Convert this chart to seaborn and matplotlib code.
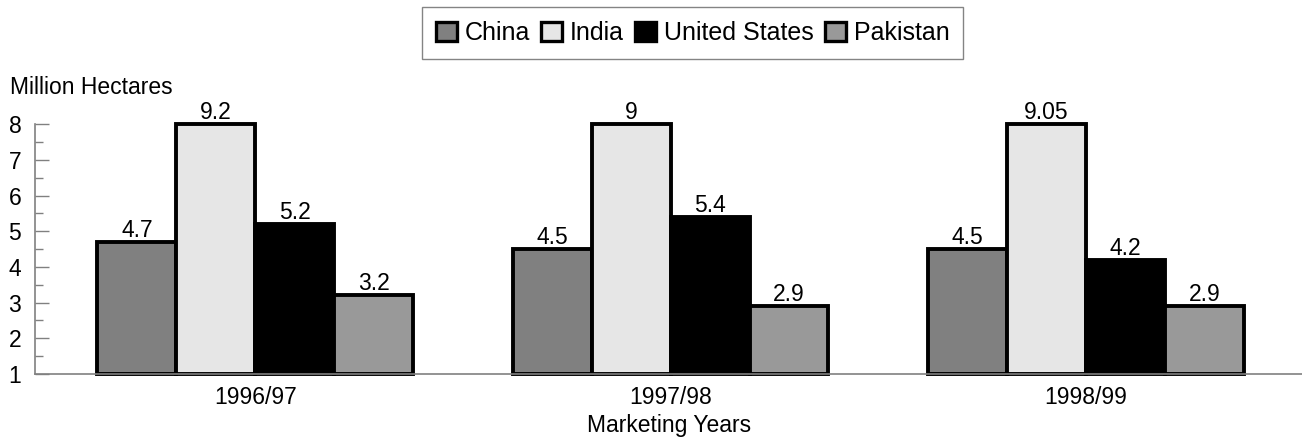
import numpy as np
import pandas as pd
import matplotlib
matplotlib.use("Agg")
import matplotlib.pyplot as plt
from matplotlib.ticker import MultipleLocator
import seaborn as sns

# ===================== DATA =====================
years = ["1996/97", "1997/98", "1998/99"]
countries = ["China", "India", "United States", "Pakistan"]
china = [4.7, 4.5, 4.5]
india = [9.2, 9.0, 9.05]
united_states = [5.2, 5.4, 4.2]
pakistan = [3.2, 2.9, 2.9]

colors = ["#808080", "#e6e6e6", "#000000", "#999999"]

df = pd.DataFrame({
    "Year": years * 4,
    "Country": np.repeat(countries, len(years)),
    "Area": china + india + united_states + pakistan,
})

# ===================== PLOT =====================
sns.set_style("white")
plt.rcParams["font.family"] = ["Liberation Sans", "DejaVu Sans"]
plt.rcParams["text.color"] = "black"
plt.rcParams["xtick.labelcolor"] = "black"
plt.rcParams["ytick.labelcolor"] = "black"
plt.rcParams["axes.labelcolor"] = "black"
FS = 16.5

fig = plt.figure(figsize=(13.02, 4.42), dpi=100)
ax = fig.add_axes([0.027, 0.154, 0.973, 0.565])

ymin, ymax = 1, 8
sns.barplot(data=df, x="Year", y="Area", hue="Country", order=years,
            hue_order=countries, palette=colors, width=0.76,
            edgecolor="black", linewidth=2.8, saturation=1, legend=False, ax=ax)

ax.set_ylim(ymin, ymax)
ax.set_xlim(-0.53, 2.52)

# bars start at the axis floor and stop at the top of the scale
for bar in ax.patches:
    top = min(bar.get_y() + bar.get_height(), ymax)
    bar.set_y(ymin)
    bar.set_height(top - ymin)
    bar.set_clip_on(False)
    bar.set_joinstyle("miter")

# value labels (true values, even when the bar is capped)
for container, country in zip(ax.containers, countries):
    vals = df[df["Country"] == country]["Area"].tolist()
    ax.bar_label(container, labels=[f"{v:g}" for v in vals], padding=0, fontsize=FS)

# axes styling
for side in ["top", "right"]:
    ax.spines[side].set_visible(False)
for side in ["left", "bottom"]:
    ax.spines[side].set_color("#808080")
    ax.spines[side].set_linewidth(1.2)

ax.yaxis.set_major_locator(MultipleLocator(1))
ax.yaxis.set_minor_locator(MultipleLocator(0.5))
ax.tick_params(axis="y", which="major", direction="in", length=10, width=1,
               color="#808080", labelsize=FS, left=True, pad=10)
ax.tick_params(axis="y", which="minor", direction="in", length=6, width=1,
               color="#808080", left=True)
ax.tick_params(axis="x", length=0, labelsize=FS, pad=9)

ax.set_xlabel("Marketing Years", fontsize=FS, labelpad=3)
ax.set_ylabel("")
fig.text(0.008, 0.776, "Million Hectares", fontsize=FS, ha="left", va="bottom")

# legend
handles = [plt.Rectangle((0, 0), 1, 1, facecolor=c, edgecolor="black", linewidth=2.4)
           for c in colors]
leg = fig.legend(handles, countries, loc="center", bbox_to_anchor=(0.532, 0.925),
                 ncol=4, frameon=True, fancybox=False, fontsize=18,
                 handlelength=0.85, handleheight=0.85, handletextpad=0.3,
                 columnspacing=0.45, borderpad=0.55)
leg.get_frame().set_edgecolor("#666666")
leg.get_frame().set_linewidth(1)

plt.savefig("out.png", dpi=100)
